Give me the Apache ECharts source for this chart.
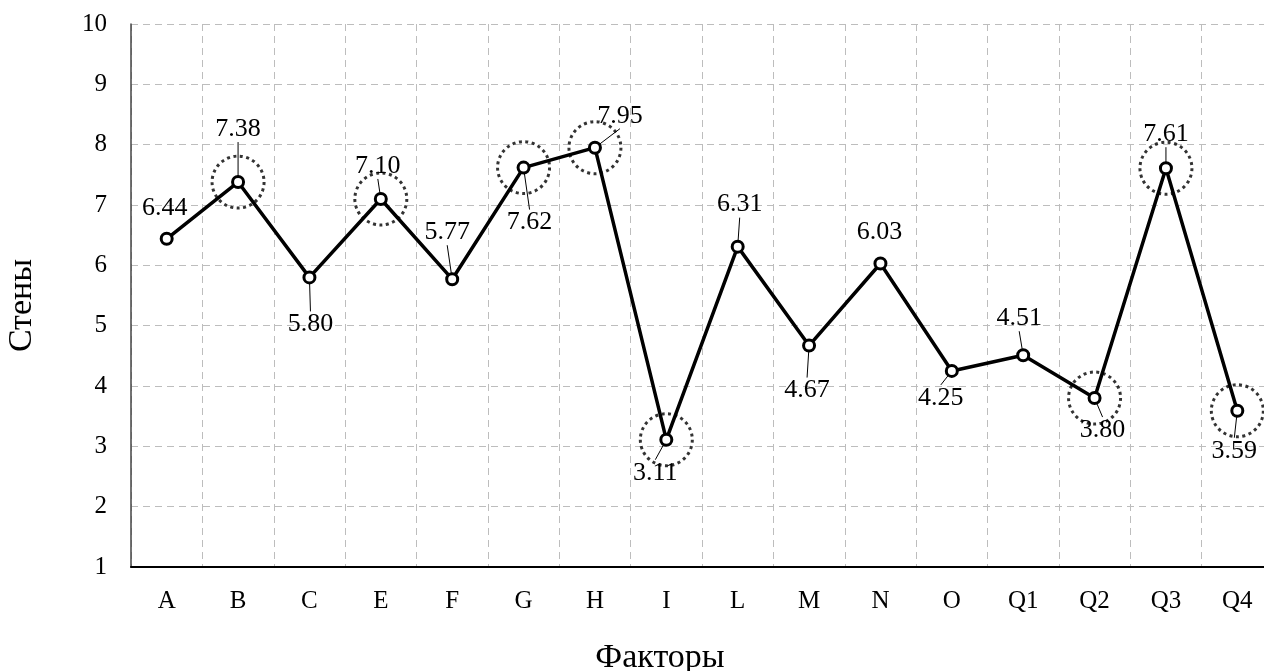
<!DOCTYPE html>
<html>
<head>
<meta charset="utf-8">
<script src="https://cdn.jsdelivr.net/npm/echarts@6/dist/echarts.min.js"></script>
<style>
html,body{margin:0;padding:0;background:#fff;overflow:hidden;}
#chart{width:1264px;height:671px;}
</style>
</head>
<body>
<div id="chart"></div>
<script>
const categories = ['A','B','C','E','F','G','H','I','L','M','N','O','Q1','Q2','Q3','Q4'];
const values = [6.44,7.38,5.80,7.10,5.77,7.62,7.95,3.11,6.31,4.67,6.03,4.25,4.51,3.80,7.61,3.59];
const highlighted = ['B','E','G','H','I','Q2','Q3','Q4'];
const yTicks = [1,2,3,4,5,6,7,8,9,10];

// label offsets (dx, dy) from point to label centre
const labelShift = [[-2,-31],[0,-53],[1,47],[-3,-33],[-5,-47],[6,55],[25,-32],[-11,33],[2,-42],[-2,45],[-1,-31],[-11,27],[-4,-37],[8,32],[0,-34],[-3,40]];
const noLine = [0,10];

const FONT = '"Liberation Serif", "Times New Roman", serif';
const chart = echarts.init(document.getElementById('chart'));

const lineData = values.map((v,i)=>({
  value: v,
  labelLine: {show: noLine.indexOf(i) < 0}
}));
const circleData = categories.map((c,i)=> highlighted.indexOf(c) >= 0 ? [c, values[i]] : null).filter(d=>d);

chart.setOption({
  animation: false,
  grid: {left: 131, width: 1142, top: 24, bottom: 104, containLabel: false, outerBoundsMode: 'none'},
  xAxis: {
    type: 'category',
    data: categories,
    boundaryGap: true,
    name: 'Факторы',
    nameLocation: 'middle',
    nameGap: 74,
    nameTextStyle: {fontFamily: FONT, fontSize: 34, color: '#000', padding: [0, 84, 0, 0]},
    axisLine: {lineStyle: {color: '#000', width: 2}},
    axisTick: {show: false},
    axisLabel: {fontFamily: FONT, fontSize: 25, color: '#000', margin: 22, interval: 0},
    splitLine: {show: true, interval: 0, lineStyle: {color: '#bdbdbd', type: [7,5], width: 1}}
  },
  yAxis: {
    type: 'value',
    min: yTicks[0],
    max: yTicks[yTicks.length-1],
    interval: 1,
    name: 'Стены',
    nameLocation: 'middle',
    nameGap: 92,
    nameRotate: 90,
    nameTextStyle: {fontFamily: FONT, fontSize: 34, color: '#000', padding: [0, 20, 0, 0]},
    axisLine: {show: true, lineStyle: {color: '#444', width: 1.5}},
    axisTick: {show: false},
    axisLabel: {fontFamily: FONT, fontSize: 25, color: '#000', margin: 24},
    splitLine: {show: true, lineStyle: {color: '#bdbdbd', type: [7,5], width: 1}}
  },
  series: [
    {
      type: 'scatter',
      data: circleData,
      symbol: 'circle',
      symbolSize: 52,
      z: 1,
      itemStyle: {color: 'rgba(0,0,0,0)', borderColor: '#000', borderWidth: 3, borderType: [3, 3.5]},
      silent: true
    },
    {
      type: 'line',
      data: lineData,
      z: 3,
      symbol: 'circle',
      symbolSize: 11,
      showAllSymbol: true,
      lineStyle: {color: '#000', width: 3.5},
      itemStyle: {color: '#fff', borderColor: '#000', borderWidth: 3},
      label: {
        show: true,
        position: 'inside',
        formatter: p => p.value.toFixed(2),
        fontFamily: FONT,
        fontSize: 26,
        color: '#000'
      },
      labelLine: {show: true, lineStyle: {color: '#000', width: 1}},
      labelLayout: p => ({dx: labelShift[p.dataIndex][0], dy: labelShift[p.dataIndex][1]})
    }
  ]
});
</script>
</body>
</html>
